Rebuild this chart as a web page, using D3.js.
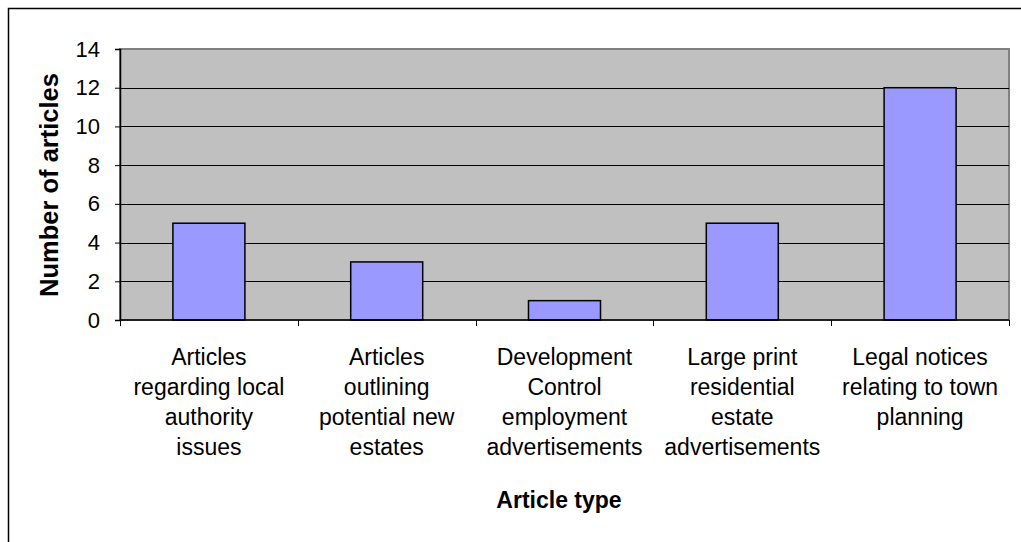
<!DOCTYPE html>
<html lang="en">
<head>
    <meta charset="UTF-8">
    <title>Article types</title>
    <script src="https://d3js.org/d3.v7.min.js"></script>
    <style>
        body { margin: 0; background: #fff; }
        text { font-family: "Liberation Sans", Arial, sans-serif; fill: #000; }
    </style>
</head>
<body>
    <svg width="1021" height="542"></svg>

    <script>
        // Data
        const categories = [
            "Articles regarding local authority issues",
            "Articles outlining potential new estates",
            "Development Control employment advertisements",
            "Large print residential estate advertisements",
            "Legal notices relating to town planning"
        ];
        const labelLines = [
            ["Articles", "regarding local", "authority", "issues"],
            ["Articles", "outlining", "potential new", "estates"],
            ["Development", "Control", "employment", "advertisements"],
            ["Large print", "residential", "estate", "advertisements"],
            ["Legal notices", "relating to town", "planning"]
        ];
        const counts = [5, 3, 1, 5, 12];
        const yTicks = [0, 2, 4, 6, 8, 10, 12, 14];

        const width = 1021, height = 542;
        const plot = { left: 120, right: 1009, top: 49, bottom: 320 };

        const svg = d3.select("svg");

        // Outer chart border
        svg.append("rect")
           .attr("x", 8.5)
           .attr("y", 8.5)
           .attr("width", width)
           .attr("height", height)
           .attr("fill", "none")
           .attr("stroke", "#000")
           .attr("stroke-width", 1.5);

        const x = d3.scaleBand()
                    .domain(categories)
                    .range([plot.left, plot.right])
                    .padding(0);

        const y = d3.scaleLinear()
                    .domain([0, 14])
                    .range([plot.bottom, plot.top]);

        // Plot area background
        svg.append("rect")
           .attr("x", plot.left)
           .attr("y", plot.top)
           .attr("width", plot.right - plot.left)
           .attr("height", plot.bottom - plot.top)
           .attr("fill", "#c0c0c0")
           .attr("stroke", "#808080")
           .attr("stroke-width", 2);

        // Gridlines
        svg.append("g")
           .selectAll("line")
           .data(yTicks.filter(d => d > 0 && d < 14))
           .join("line")
           .attr("x1", plot.left)
           .attr("x2", plot.right)
           .attr("y1", d => Math.round(y(d)) + 0.5)
           .attr("y2", d => Math.round(y(d)) + 0.5)
           .attr("stroke", "#000")
           .attr("stroke-width", 1);

        // Bars
        const barW = x.bandwidth() * 0.405;
        svg.append("g")
           .selectAll("rect")
           .data(counts)
           .join("rect")
           .attr("x", (d, i) => x(categories[i]) + (x.bandwidth() - barW) / 2)
           .attr("y", d => y(d))
           .attr("width", barW)
           .attr("height", d => y(0) - y(d))
           .attr("fill", "#9999ff")
           .attr("stroke", "#000")
           .attr("stroke-width", 1.5);

        // Y axis
        const yAxis = svg.append("g")
           .attr("transform", `translate(${plot.left},0)`)
           .call(d3.axisLeft(y).tickValues(yTicks).tickSize(5).tickPadding(15));
        yAxis.select(".domain").attr("stroke", "#000").attr("stroke-width", 1.5);
        yAxis.selectAll(".tick line").attr("stroke", "#000");
        yAxis.selectAll("text")
             .style("font-size", "22px")
             .attr("font-family", null);

        // X axis (ticks at band edges)
        const xEdges = categories.map(c => x(c)).concat([plot.right]);
        svg.append("line")
           .attr("x1", plot.left)
           .attr("x2", plot.right)
           .attr("y1", plot.bottom)
           .attr("y2", plot.bottom)
           .attr("stroke", "#000")
           .attr("stroke-width", 1.5);
        svg.append("g")
           .selectAll("line")
           .data(xEdges)
           .join("line")
           .attr("x1", d => Math.round(d) + 0.5)
           .attr("x2", d => Math.round(d) + 0.5)
           .attr("y1", plot.bottom)
           .attr("y2", plot.bottom + 6)
           .attr("stroke", "#000");

        // Category labels
        const catLabels = svg.append("g")
           .selectAll("text")
           .data(labelLines)
           .join("text")
           .attr("text-anchor", "middle")
           .style("font-size", "23px");
        catLabels.selectAll("tspan")
           .data((d, i) => d.map(t => ({ t, i })))
           .join("tspan")
           .attr("x", d => x(categories[d.i]) + x.bandwidth() / 2)
           .attr("y", (d, j) => 365 + j * 30)
           .text(d => d.t);

        // X axis title
        svg.append("text")
           .attr("x", 559)
           .attr("y", 508)
           .attr("text-anchor", "middle")
           .style("font-size", "23px")
           .style("font-weight", "bold")
           .text("Article type");

        // Y axis title
        svg.append("text")
           .attr("transform", "rotate(-90)")
           .attr("x", -185)
           .attr("y", 58)
           .attr("text-anchor", "middle")
           .style("font-size", "25.5px")
           .style("font-weight", "bold")
           .text("Number of articles");
    </script>
</body>
</html>
